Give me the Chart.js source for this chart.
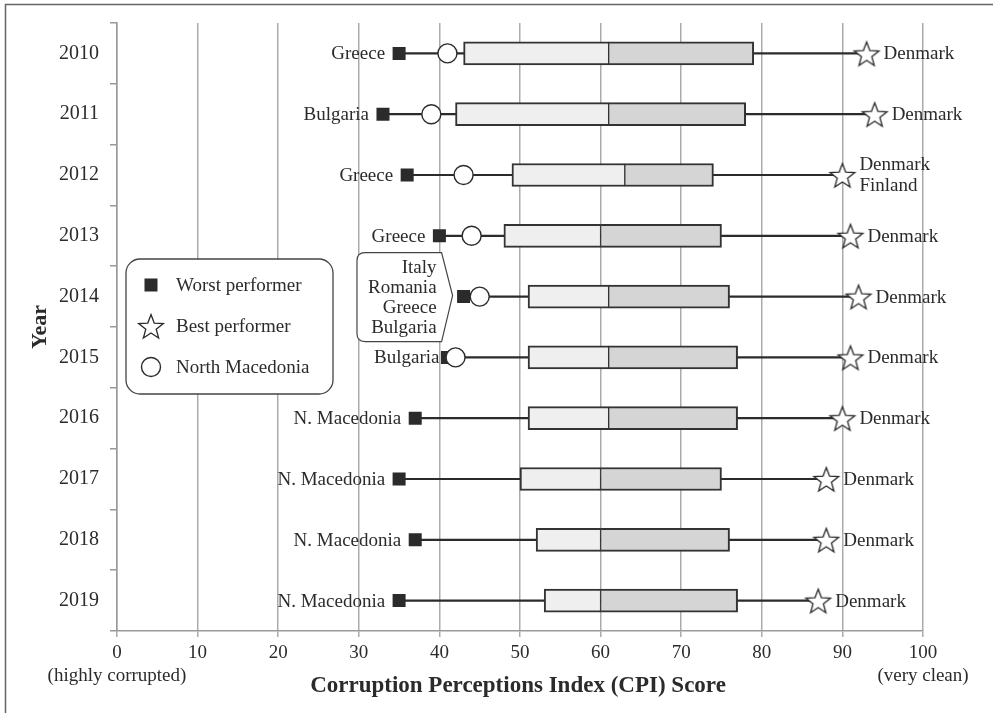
<!DOCTYPE html>
<html>
<head>
<meta charset="utf-8">
<title>CPI scores 2010–2019</title>
<script src="https://cdn.jsdelivr.net/npm/chart.js@4.4.1/dist/chart.umd.min.js"></script>
<style>
  html, body { margin: 0; padding: 0; background: #fff; }
  canvas { display: block; }
</style>
</head>
<body>
<canvas id="cpiChart" width="993" height="713"></canvas>
<script>
const years = ["2010", "2011", "2012", "2013", "2014", "2015", "2016", "2017", "2018", "2019"];
const worst = [35, 33, 36, 40, 43, 41, 37, 35, 37, 35];
const q1 = [43, 42, 49, 48, 51, 51, 51, 50, 52, 53];
const median = [61, 61, 63, 60, 61, 61, 61, 60, 60, 60];
const q3 = [79, 78, 74, 75, 76, 77, 77, 75, 76, 77];
const best = [93, 94, 90, 91, 92, 91, 90, 88, 88, 87];
const northMacedonia = [41, 39, 43, 44, 45, 42, null, null, null, null];
const worstNames = [
    ["Greece"], ["Bulgaria"], ["Greece"], ["Greece"],
    ["Italy", "Romania", "Greece", "Bulgaria"],
    ["Bulgaria"], ["N. Macedonia"], ["N. Macedonia"], ["N. Macedonia"], ["N. Macedonia"]
];
const bestNames = [
    ["Denmark"], ["Denmark"], ["Denmark", "Finland"], ["Denmark"], ["Denmark"],
    ["Denmark"], ["Denmark"], ["Denmark"], ["Denmark"], ["Denmark"]
];
const xMin = 0, xMax = 100, xStep = 10;

const INK = "#2b2b2b";
const SERIF = '"Liberation Serif", "DejaVu Serif", serif';

function starPath(ctx, cx, cy, R, r) {
    ctx.beginPath();
    for (let k = 0; k < 10; k++) {
        const rad = k % 2 === 0 ? R : r;
        const a = -Math.PI / 2 + k * Math.PI / 5;
        const px = cx + rad * Math.cos(a), py = cy + rad * Math.sin(a);
        if (k === 0) ctx.moveTo(px, py); else ctx.lineTo(px, py);
    }
    ctx.closePath();
}

// star marker as an image so chart.js can use it as a pointStyle
function makeStar(R) {
    const c = document.createElement("canvas");
    const s = Math.ceil(R * 2 + 4);
    c.width = s; c.height = s;
    const g = c.getContext("2d");
    starPath(g, s / 2, s / 2 + 1.5, R, R * 0.42);
    g.fillStyle = "#fff";
    g.fill();
    g.strokeStyle = INK;
    g.lineWidth = 1.3;
    g.stroke();
    return c;
}
const starImg = makeStar(13);

function drawCallout(ctx, names, px, py) {
    const lh = 20;
    const textRight = px - 27;
    let maxW = 0;
    names.forEach(n => { maxW = Math.max(maxW, ctx.measureText(n).width); });
    const left = textRight - maxW - 11;
    const right = px - 22;
    const top = py - 45, bottom = py + 44;
    const r = 8;
    ctx.beginPath();
    ctx.moveTo(left + r, top);
    ctx.lineTo(right, top);
    ctx.lineTo(px - 11, py - 2);
    ctx.lineTo(right, bottom);
    ctx.lineTo(left + r, bottom);
    ctx.quadraticCurveTo(left, bottom, left, bottom - r);
    ctx.lineTo(left, top + r);
    ctx.quadraticCurveTo(left, top, left + r, top);
    ctx.closePath();
    ctx.fillStyle = "#fff";
    ctx.fill();
    ctx.strokeStyle = "#444";
    ctx.lineWidth = 1.2;
    ctx.stroke();
    ctx.fillStyle = INK;
    ctx.textAlign = "right";
    const y0 = py - (names.length - 1) * lh / 2;
    names.forEach((n, k) => ctx.fillText(n, textRight, y0 + k * lh));
}

function drawLegend(ctx) {
    ctx.beginPath();
    ctx.roundRect(126, 259, 207, 135, 14);
    ctx.fillStyle = "#fff";
    ctx.fill();
    ctx.strokeStyle = "#444";
    ctx.lineWidth = 1.3;
    ctx.stroke();

    ctx.fillStyle = INK;
    ctx.fillRect(144.5, 278.5, 13, 13);
    ctx.drawImage(starImg, 151 - starImg.width / 2, 326 - starImg.height / 2);
    ctx.beginPath();
    ctx.arc(151, 367, 9.5, 0, Math.PI * 2);
    ctx.fillStyle = "#fff";
    ctx.fill();
    ctx.strokeStyle = INK;
    ctx.lineWidth = 1.4;
    ctx.stroke();

    ctx.fillStyle = INK;
    ctx.font = `19px ${SERIF}`;
    ctx.textAlign = "left";
    ctx.textBaseline = "middle";
    ctx.fillText("Worst performer", 176, 286);
    ctx.fillText("Best performer", 176, 327);
    ctx.fillText("North Macedonia", 176, 368);
}

const annotations = {
    id: "annotations",
    afterDatasetsDraw(chart) {
        const ctx = chart.ctx;
        const wMeta = chart.getDatasetMeta(3);
        const bMeta = chart.getDatasetMeta(5);
        ctx.save();
        ctx.font = `19px ${SERIF}`;
        ctx.textBaseline = "middle";

        wMeta.data.forEach((pt, i) => {
            const names = worstNames[i];
            ctx.fillStyle = INK;
            if (names.length > 1) {
                drawCallout(ctx, names, pt.x, pt.y + 1);
                return;
            }
            // label squeezes in when the circle sits right next to the square
            const nm = northMacedonia[i];
            const gap = (nm !== null && nm - worst[i] < 2) ? 8 : 14;
            ctx.textAlign = "right";
            ctx.fillText(names[0], pt.x - gap, pt.y + 1);
        });

        bMeta.data.forEach((pt, i) => {
            const names = bestNames[i];
            const lh = 21;
            const y0 = pt.y + 1 - (names.length - 1) * lh / 2;
            ctx.fillStyle = INK;
            ctx.textAlign = "left";
            names.forEach((n, k) => ctx.fillText(n, pt.x + 17, y0 + k * lh));
        });

        drawLegend(ctx);
        ctx.restore();
    },
    afterDraw(chart) {
        const ctx = chart.ctx;
        const area = chart.chartArea;
        const xs = chart.scales.x;
        ctx.save();
        // outer frame
        ctx.strokeStyle = "#666";
        ctx.lineWidth = 1.5;
        ctx.strokeRect(5.5, 4.5, 1000, 720);

        ctx.fillStyle = INK;
        ctx.textBaseline = "middle";
        ctx.textAlign = "center";
        ctx.font = `bold 23px ${SERIF}`;
        ctx.fillText("Corruption Perceptions Index (CPI) Score", (area.left + area.right) / 2 - 2, 686);

        ctx.font = `19px ${SERIF}`;
        ctx.fillText("(highly corrupted)", xs.getPixelForValue(xMin), 676);
        ctx.fillText("(very clean)", xs.getPixelForValue(xMax), 676);

        ctx.translate(40, (area.top + area.bottom) / 2);
        ctx.rotate(-Math.PI / 2);
        ctx.font = `bold 22px ${SERIF}`;
        ctx.fillText("Year", 0, 0);
        ctx.restore();
    }
};

new Chart(document.getElementById("cpiChart"), {
    type: "bar",
    data: {
        labels: years,
        datasets: [
            {
                label: "range",
                data: years.map((_, i) => [worst[i], best[i]]),
                backgroundColor: INK,
                barThickness: 1.5,
                grouped: false,
                order: 5
            },
            {
                label: "lower quartile",
                data: years.map((_, i) => [q1[i], median[i]]),
                backgroundColor: "#efefef",
                borderColor: "#333",
                borderWidth: { top: 2, bottom: 2, left: 2, right: 1 },
                borderSkipped: false,
                barThickness: 23,
                grouped: false,
                order: 3
            },
            {
                label: "upper quartile",
                data: years.map((_, i) => [median[i], q3[i]]),
                backgroundColor: "#d5d5d5",
                borderColor: "#333",
                borderWidth: { top: 2, bottom: 2, left: 1, right: 2 },
                borderSkipped: false,
                barThickness: 23,
                grouped: false,
                order: 3
            },
            {
                type: "line",
                label: "Worst performer",
                data: years.map((y, i) => ({ x: worst[i], y })),
                showLine: false,
                pointStyle: "rect",
                pointRadius: 9.2,
                pointBackgroundColor: INK,
                pointBorderWidth: 0,
                order: 1
            },
            {
                type: "line",
                label: "North Macedonia",
                data: years.map((y, i) => ({ x: northMacedonia[i], y })),
                showLine: false,
                pointStyle: "circle",
                pointRadius: 9.5,
                pointBackgroundColor: "#fff",
                pointBorderColor: INK,
                pointBorderWidth: 1.4,
                order: 0
            },
            {
                type: "line",
                label: "Best performer",
                data: years.map((y, i) => ({ x: best[i], y })),
                showLine: false,
                pointStyle: starImg,
                order: 0
            }
        ]
    },
    options: {
        indexAxis: "y",
        responsive: false,
        animation: false,
        layout: { padding: { top: 22, right: 70, bottom: 0, left: 0 } },
        plugins: {
            legend: { display: false },
            tooltip: { enabled: false }
        },
        scales: {
            x: {
                type: "linear",
                min: xMin,
                max: xMax,
                ticks: {
                    stepSize: xStep,
                    color: INK,
                    font: { family: SERIF, size: 19 },
                    padding: 5,
                    maxRotation: 0
                },
                grid: { color: "#ababab", lineWidth: 1.5, tickLength: 6 },
                border: { color: "#999", width: 1.5 },
                afterFit: s => { s.height = 82; }
            },
            y: {
                type: "category",
                offset: true,
                ticks: {
                    color: INK,
                    font: { family: SERIF, size: 20 },
                    padding: 11
                },
                grid: { drawOnChartArea: false, color: "#999", lineWidth: 1.5, tickLength: 7, offset: true },
                border: { color: "#999", width: 1.5 },
                afterFit: s => { s.width = 117; }
            }
        }
    },
    plugins: [annotations]
});
</script>
</body>
</html>
